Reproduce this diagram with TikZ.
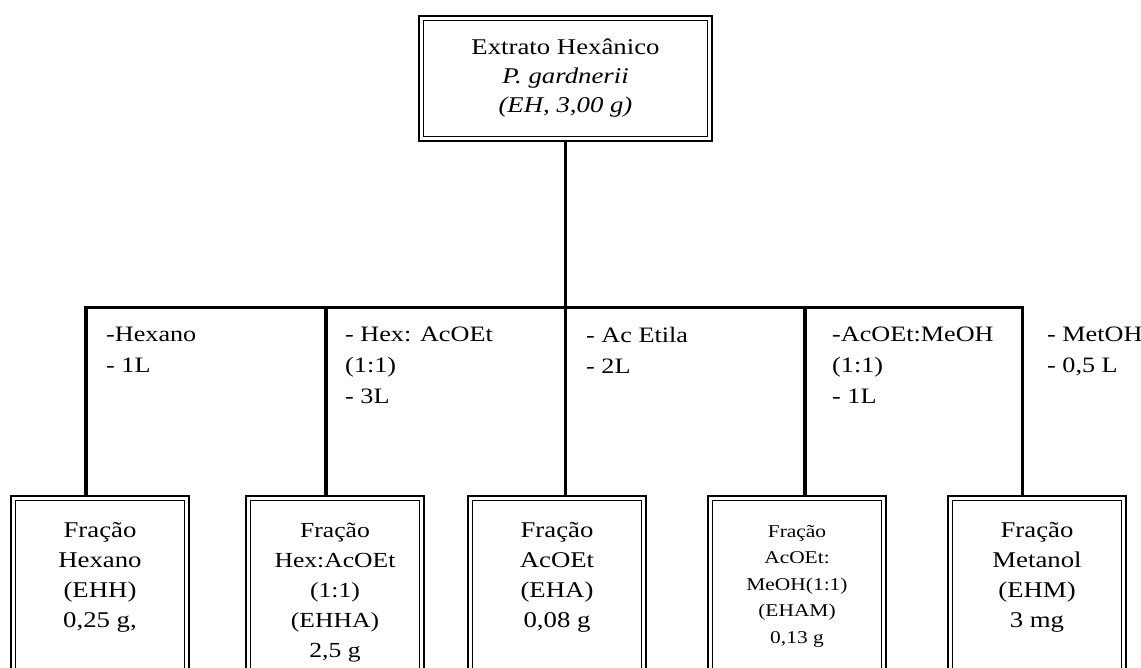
\documentclass[tikz,border=0pt]{standalone}
\usepackage{fontspec}
\setmainfont{Liberation Serif}[FakeStretch=1.19]

\tikzset{
  extrato/.style={draw, line width=2.5pt, minimum width=293pt, minimum height=125pt,
    align=center, font=\fontsize{22.5}{29}\selectfont},
  fracao/.style={draw, line width=2.5pt, anchor=north, inner xsep=0pt, inner ysep=26pt,
    font=\fontsize{22.5}{30}\selectfont,
    execute at begin node={\begin{minipage}[t][160pt][t]{178pt}\centering},
    execute at end node={\end{minipage}}},
  solvente/.style={anchor=north west, inner sep=0pt, align=left,
    font=\fontsize{22}{31}\selectfont},
  haste/.style={line width=3.6pt}
}

\begin{document}
\begin{tikzpicture}[x=1pt, y=-1pt]
    \useasboundingbox (0,0) rectangle (1141,668);
    \clip (0,0) rectangle (1141,668);

    % Extrato bruto
    \node[extrato] (eh) at (565.5,78.5)
        {Extrato Hexânico\\ \textit{P. gardnerii}\\ \textit{(EH, 3,00 g)}};

    % Frações
    \node[fracao] (ehh) at (100,494.8) {Fração\\Hexano\\(EHH)\\0,25 g,};
    \node[fracao, inner ysep=27pt, font=\fontsize{21.5}{30}\selectfont] (ehha) at (335,494.8)
        {Fração\\Hex:AcOEt\\(1:1)\\(EHHA)\\2,5 g};
    \node[fracao] (eha) at (557,494.8) {Fração\\AcOEt\\(EHA)\\0,08 g};
    \node[fracao, inner ysep=29pt, font=\fontsize{18}{26.5}\selectfont] (eham) at (797,494.8)
        {Fração\\AcOEt:\\MeOH(1:1)\\(EHAM)\\0,13 g};
    \node[fracao] (ehm) at (1037,494.8) {Fração\\Metanol\\(EHM)\\3 mg};

    % Linha interna das molduras duplas
    \foreach \n in {eh,ehh,ehha,eha,eham,ehm}
        \draw[line width=1.6pt] ([shift={(5.75pt,-5.75pt)}]\n.north west)
            rectangle ([shift={(-5.75pt,5.75pt)}]\n.south east);

    % Pontos da barra de distribuição
    \coordinate (j1) at (85.7,307.7);
    \coordinate (j2) at (325.7,307.7);
    \coordinate (j3) at (565.5,307.7);
    \coordinate (j4) at (805,307.7);
    \coordinate (j5) at (1022.3,307.7);

    \draw[haste] (eh) -- (j3);
    \draw[haste] (j1 |- ehh.north) -- (j1) -- (j5) -- (j5 |- ehm.north);
    \foreach \j/\n in {j2/ehha,j3/eha,j4/eham}
        \draw[haste] (\j) -- (\j |- \n.north);

    % Solventes de eluição
    \node[solvente] (hexano) at (106,326.6) {-Hexano\\- 1L};
    \node[solvente] (hexacoet) at (345,326.6) {- Hex: AcOEt\\(1:1)\\- 3L};
    \node[solvente] (acetila) at (586,326.6) {- Ac Etila\\- 2L};
    \node[solvente] (acoetmeoh) at (832,326.6) {-AcOEt:MeOH\\(1:1)\\- 1L};
    \node[solvente] (metoh) at (1047,326.6) {- MetOH\\- 0,5 L};
\end{tikzpicture}
\end{document}
